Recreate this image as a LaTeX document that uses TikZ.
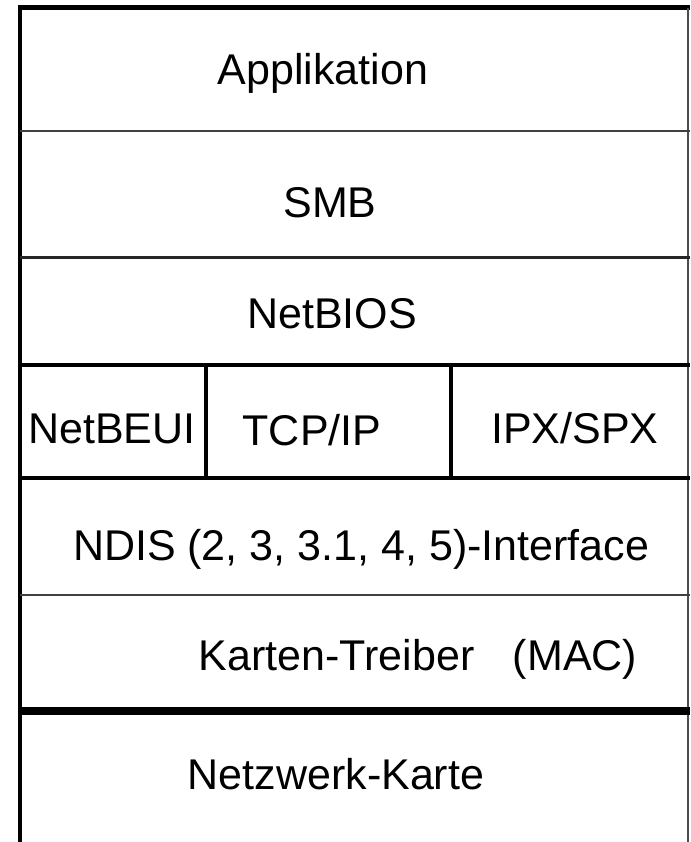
\documentclass[tikz,border=0pt]{standalone}
\usepackage{fontspec}
\setmainfont{Liberation Sans}
\usetikzlibrary{positioning}

\tikzset{
  layer/.style={anchor=base, inner sep=0pt, font=\fontsize{43}{50}\selectfont},
  thinrule/.style={line width=2.5pt, black!75},
  thickrule/.style={line width=3.5pt, black},
}

\begin{document}
\begin{tikzpicture}[x=1pt, y=-1pt]
\useasboundingbox[fill=white] (0,0) rectangle (690,842);

% Frame
\draw[line width=5pt] (18,8) -- (690,8);
\draw[line width=3.5pt] (20,6) -- (20,842);
\draw[line width=2.5pt, black!70] (688,8) -- (688,842);

% Layer borders
\draw[thinrule] (20,131) -- (690,131);
\draw[line width=3pt, black!85] (20,257) -- (690,257);
\draw[thickrule] (20,365) -- (690,365);
\draw[thickrule] (20,478) -- (451,478);
\draw[line width=4.5pt] (451,478) -- (690,478);
\draw[thinrule] (20,595) -- (690,595);
\draw[line width=8pt] (20,711) -- (690,711);

% Protocol columns
\draw[thickrule] (206,365) -- (206,478);
\draw[thickrule] (451,365) -- (451,478);

% Labels
\node[layer] (appl) at (323,85) {Applikation};
\node[layer] (smb) at (330,218) {SMB};
\node[layer] (netbios) at (332,328) {NetBIOS};
\node[layer] (netbeui) at (112,443) {NetBEUI};
\node[layer] (tcpip) at (312,445) {TCP/IP};
\node[layer] (ipxspx) at (575,443) {IPX/SPX};
\node[layer] (ndis) at (361,560) {NDIS (2, 3, 3.1, 4, 5)-Interface};
\node[layer] (treiber) at (418,670) {Karten-Treiber\hspace{0.9em}(MAC)};
\node[layer] (karte) at (336,789) {Netzwerk-Karte};
\end{tikzpicture}
\end{document}
